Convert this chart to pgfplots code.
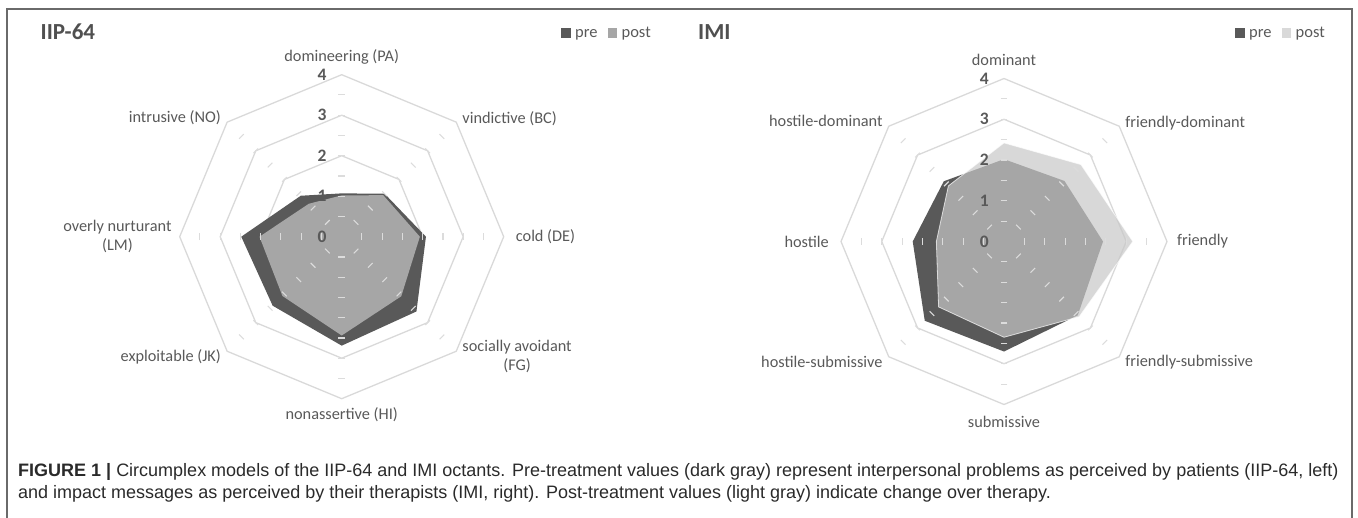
\documentclass[border=0pt]{standalone}
\usepackage{fontspec}
\setmainfont{Carlito}
\newfontfamily\capfont{Liberation Sans}
\usepackage{pgfplots}
\pgfplotsset{compat=1.18}
\usepgfplotslibrary{polar}
\definecolor{pre}{HTML}{595959}
\definecolor{postL}{HTML}{A6A6A6}
\definecolor{postR}{HTML}{C8C8C8}
\definecolor{postRleg}{HTML}{D9D9D9}
\definecolor{gridc}{HTML}{D9D9D9}
\definecolor{tickc}{HTML}{DCDCDC}
\definecolor{txt}{HTML}{595959}
\definecolor{ttl}{HTML}{505050}
\definecolor{framec}{HTML}{6A6A6A}
\definecolor{capc}{HTML}{2A2A2A}

\newcommand{\catfont}{\fontsize{16.3}{19}\selectfont}
\newcommand{\radfont}{\fontsize{17.5}{19}\selectfont\bfseries}
\newcommand{\legsq}[1]{\textcolor{#1}{\rule{9.5pt}{9.5pt}}}

\pgfplotsset{
  radar/.style={hide axis, clip=false, scale only axis,
    xmin=0, xmax=360, ymin=0, ymax=4, anchor=center},
  octgrid/.style={draw=gridc, line width=1.3pt},
}

\begin{document}
\begin{tikzpicture}[x=1pt,y=1pt]
\useasboundingbox (0,0) rectangle (1358,517);
% frame
\draw[framec, line width=1.3pt] (7,-2) -- (7,508) -- (1352,508) -- (1352,-2);

% titles and legends
\node[anchor=base west, font=\fontsize{23}{24}\selectfont\bfseries, text=ttl, inner sep=0pt] at (40.5,477) {IIP-64};
\node[anchor=base east, font=\fontsize{16.5}{18}\selectfont, text=txt, inner sep=0pt] at (651,479)
  {\legsq{pre}\hspace{4.5pt}pre\hspace{10pt}\legsq{postL}\hspace{4.5pt}post};
\node[anchor=base west, font=\fontsize{23}{24}\selectfont\bfseries, text=ttl, inner sep=0pt] at (698,477) {IMI};
\node[anchor=base east, font=\fontsize{16.5}{18}\selectfont, text=txt, inner sep=0pt] at (1325,479)
  {\legsq{pre}\hspace{4.5pt}pre\hspace{10pt}\legsq{postRleg}\hspace{4.5pt}post};

% ---------------- IIP-64 ----------------
\begin{polaraxis}[radar, width=324pt, height=324pt, at={(341.7pt,280.3pt)}]
\pgfplotsinvokeforeach{1,2,3,4}{
  \addplot[octgrid] coordinates {(90,#1) (45,#1) (0,#1) (315,#1) (270,#1) (225,#1) (180,#1) (135,#1) (90,#1)};
}
% pre
\addplot[fill=pre, draw=none] coordinates {
 (90,1.07) (45,1.50) (0,2.08) (315,2.61) (270,2.69) (225,2.41) (180,2.48) (135,1.43) (90,1.07)};
% post
\addplot[fill=postL, draw=none] coordinates {
 (90,1.02) (45,1.45) (0,1.93) (315,2.08) (270,2.44) (225,2.07) (180,2.03) (135,1.15) (90,1.02)};
\pgfplotsinvokeforeach{0,45,90,135,180,225,270,315}{
  \addplot[only marks, mark=|, mark size=3.3pt, mark options={draw=tickc, line width=1.1pt, rotate=#1}]
    coordinates {(#1,0.5) (#1,1) (#1,1.5) (#1,2) (#1,2.5) (#1,3) (#1,3.5)};
}
\pgfplotsinvokeforeach{0,1,2,3,4}{
  \node[anchor=east, font=\radfont, text=txt, inner sep=0pt, xshift=-15pt] at (axis cs:90,#1) {#1};
}
\begin{scope}[every node/.style={font=\catfont, text=txt, inner sep=0pt, align=center}]
\node[anchor=base, yshift=12.7pt] at (axis cs:90,4) {domineering (PA)};
\node[anchor=base west, xshift=6pt, yshift=-1pt] at (axis cs:45,4) {vindictive (BC)};
\node[anchor=west, xshift=12pt] at (axis cs:0,4) {cold (DE)};
\node[anchor=west, xshift=6pt, yshift=-5.5pt] at (axis cs:315,4) {socially avoidant\\(FG)};
\node[anchor=north, yshift=-9pt] at (axis cs:270,4) {nonassertive (HI)};
\node[anchor=east, xshift=-6pt, yshift=-5.5pt] at (axis cs:225,4) {exploitable (JK)};
\node[anchor=east, xshift=-8pt] at (axis cs:180,4) {overly nurturant\\(LM)};
\node[anchor=base east, xshift=-6pt] at (axis cs:135,4) {intrusive (NO)};
\end{scope}
\end{polaraxis}

% ---------------- IMI ----------------
\begin{polaraxis}[radar, width=326pt, height=326pt, at={(1004pt,275.5pt)}]
\pgfplotsinvokeforeach{1,2,3,4}{
  \addplot[octgrid] coordinates {(90,#1) (45,#1) (0,#1) (315,#1) (270,#1) (225,#1) (180,#1) (135,#1) (90,#1)};
}
% pre
\addplot[fill=pre, draw=none] coordinates {
 (90,2.02) (45,2.10) (0,2.43) (315,2.56) (270,2.70) (225,2.75) (180,2.24) (135,2.09) (90,2.02)};
% post
\addplot[fill=postR, fill opacity=0.7, draw=white, draw opacity=0.7, line width=0.8pt] coordinates {
 (90,2.42) (45,2.67) (0,3.16) (315,2.61) (270,2.35) (225,2.27) (180,1.66) (135,1.93) (90,2.42)};
\pgfplotsinvokeforeach{0,45,90,135,180,225,270,315}{
  \addplot[only marks, mark=|, mark size=3.3pt, mark options={draw=tickc, line width=1.1pt, rotate=#1}]
    coordinates {(#1,0.5) (#1,1) (#1,1.5) (#1,2) (#1,2.5) (#1,3) (#1,3.5)};
}
\pgfplotsinvokeforeach{0,1,2,3,4}{
  \node[anchor=east, font=\radfont, text=txt, inner sep=0pt, xshift=-15pt] at (axis cs:90,#1) {#1};
}
\begin{scope}[every node/.style={font=\catfont, text=txt, inner sep=0pt, align=center}]
\node[anchor=base, yshift=12.7pt] at (axis cs:90,4) {dominant};
\node[anchor=base west, xshift=6pt, yshift=-1pt] at (axis cs:45,4) {friendly-dominant};
\node[anchor=west, xshift=10pt] at (axis cs:0,4) {friendly};
\node[anchor=west, xshift=6pt, yshift=-5.5pt] at (axis cs:315,4) {friendly-submissive};
\node[anchor=north, yshift=-11pt] at (axis cs:270,4) {submissive};
\node[anchor=east, xshift=-6pt, yshift=-5.5pt] at (axis cs:225,4) {hostile-submissive};
\node[anchor=east, xshift=-12pt] at (axis cs:180,4) {hostile};
\node[anchor=base east, xshift=-6pt] at (axis cs:135,4) {hostile-dominant};
\end{scope}
\end{polaraxis}

% caption
\node[anchor=base west, inner sep=0pt, font=\capfont\fontsize{18}{22}\selectfont, text=capc] at (18,41)
  {\textbf{FIGURE 1 |} Circumplex models of the IIP-64 and IMI octants. Pre-treatment values (dark gray) represent interpersonal problems as perceived by patients (IIP-64, left)};
\node[anchor=base west, inner sep=0pt, font=\capfont\fontsize{18}{22}\selectfont, text=capc] at (18,19)
  {and impact messages as perceived by their therapists (IMI, right). Post-treatment values (light gray) indicate change over therapy.};
\end{tikzpicture}
\end{document}
